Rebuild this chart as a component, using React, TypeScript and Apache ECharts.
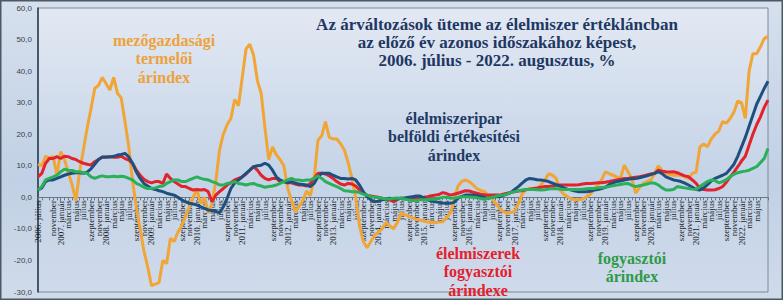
import React, { useEffect, useRef } from "react";
import * as echarts from "echarts";

const MONTHS = ["január", "február", "március", "április", "május", "június", "július", "augusztus", "szeptember", "október", "november", "december"];
const START_YEAR = 2006;
const START_MONTH = 6; // július
const N_MONTHS = 194;

const categories: string[] = [];
for (let k = 0; k < N_MONTHS; k++) {
  const m = (START_MONTH + k) % 12;
  const y = START_YEAR + Math.floor((START_MONTH + k) / 12);
  categories.push(`${y}. ${MONTHS[m]}`);
}

const yTicks = { min: -30, max: 60, interval: 10 };

// mezőgazdasági termelői árindex
const agriProducer = [
  10.5, 10, 13, 12.5, 13, 7, 14.5, 12, 8, 4, -1, 8, 15, 22, 28, 34.5, 35.5, 38, 36, 34,
  38, 33, 31.5, 24, 16, 5, -3, -10, -17, -22, -28, -27.5, -27, -20, -21, -13, -14, -11, -9, -6,
  -3, 0, 2.5, -2, 0, -5, -2, 5, 15, 20, 23, 25, 31, 29, 38, 47, 48.5, 45, 37, 33,
  22, 12, 16, 13.5, 12, 10, 3, -1, -4.5, -3, -1, 2, 0.5, 6, 18, 19.5, 24, 19, 18.5, 18.5,
  17, 15, 11, 6, 0, -9, -14, -16, -14, -12, -11, -10, -8, -9, -10, -8, -5, -5.5, -6, -6.5,
  -7, -7.2, -7.5, -7.8, -8, -8, -7.8, -7.7, -6.5, -5, -1, 3.5, 5, 5.5, 5, 4, 2.8, 2.2, 1.8, 0.7,
  -0.5, -1.9, -3.5, -4.5, -5, -4.8, -4.5, -2, 1, 2.5, 2.8, 2.8, 2.8, 4, 5.5, 7.5, 7, 6, 2.3, 1,
  0.2, -0.5, -0.8, -0.8, -0.5, 0.2, 1, 2.3, 4, 5.5, 8.1, 7.5, 7, 6.5, 6, 10.2, 8, 6, 1.3, 3,
  4.4, 5, 5.5, 7.5, 10, 8.5, 7.6, 7.2, 7, 7, 7, 6.5, 6, 7.6, 8, 16, 16.9, 16, 18.5, 20,
  21, 24, 23.5, 25, 27, 30.5, 30, 25, 40, 45.5, 45.5, 47.7, 50.3, 51,
];

// élelmiszeripar belföldi értékesítési árindex
const foodIndustry = [
  2.3, 3, 5, 5.5, 5.5, 6, 6.5, 7, 7.4, 7.6, 7.8, 7.8, 7.6, 8, 9, 10.5, 12, 12.8, 12.8, 12.8,
  13, 13.4, 13.6, 13.9, 12.8, 10.8, 8, 6, 4.4, 3.6, 2.8, 2.5, 2.1, 1.8, 1.3, 1, 0.7, 0, -0.8, -1.4,
  -1.9, -2.1, -2.4, -3, -3.5, -4, -4.2, -4.5, -4.9, -3, -0.3, 2.8, 4.6, 5.5, 6.5, 7.6, 8.6, 9.7, 10, 10.2,
  10.8, 10.2, 8.6, 6.5, 5.5, 5, 4.6, 5, 4.6, 4.2, 4.1, 3.9, 3.4, 4.4, 6.5, 7.6, 7.6, 7.6, 7, 6.5,
  6, 6, 5.8, 6, 5.5, 3.9, 1.8, 0.2, -0.8, -1.4, -1.2, -0.8, -0.6, -0.3, -0.5, -0.5, -0.3, -0.2, 0, 0.2,
  0.4, 0.4, -0.2, -0.8, -1.2, -1.4, -1.6, -1.8, -1.9, -1.9, -1.6, -0.3, 0.3, 0.7, 0.7, 0.7, 0.6, 0.3, 0, -0.3,
  0, 0.2, 0.2, 0.6, 1, 1.5, 2.5, 3.4, 4.5, 5.5, 6, 5.8, 5.6, 5.5, 5.3, 5, 4.5, 4, 3.6, 3,
  2.6, 2.3, 2, 1.8, 1.8, 1.8, 1.9, 2.3, 2.5, 2.8, 3.2, 4, 4.6, 5, 5.2, 5.5, 5.7, 5.9, 6, 6.2,
  6.5, 6.8, 7.2, 7.6, 8.1, 7.5, 6.5, 6, 5.5, 5.3, 5, 4.5, 3.9, 3.2, 2.5, 2.3, 3, 4, 5.2, 6,
  6.5, 7, 7.6, 9, 10.5, 13, 16, 19, 22.5, 26, 29.5, 32, 34.5, 36.8,
];

// élelmiszerek fogyasztói árindexe
const foodConsumer = [
  6.5, 7.6, 10.8, 12.3, 12.3, 12.9, 12.3, 13, 12.9, 12.3, 12, 11.3, 10.8, 10.5, 10.2, 11.3, 12, 12.7, 12.7, 12.9,
  12.7, 12.7, 13, 12.3, 11.8, 10.8, 8.6, 7, 5.7, 5, 4.6, 5, 5, 4.4, 7.4, 6, 5, 4.2, 3.4, 3.4,
  2.8, 2.3, 2.5, 2.3, 2.5, 1.8, -1.4, 0.7, 1.8, 2.8, 3.9, 4.6, 5.5, 6, 6.5, 7.4, 8.6, 9.7, 8.6, 7,
  6, 5.5, 6, 6, 5, 5, 4.6, 4.6, 4.2, 3.9, 3.9, 3.6, 4.4, 6, 7.6, 7.6, 7.4, 6.8, 6, 5,
  4.2, 3.9, 4.4, 4.2, 3.6, 2.3, 1.3, 0.7, 0.4, 0.2, 0, -0.3, -0.6, -0.8, -1.4, -0.6, -0.3, -0.3, -0.4, -0.3,
  -0.2, -0.3, 0, 0.2, 0.5, 0.7, 0.9, 1.5, 1.2, 0.7, 1, 1.3, 1.7, 2.1, 2, 1.6, 1.3, 1, 0.8, 0.7,
  0.7, 0.7, 0.7, 1, 1.3, 1.5, 1.8, 2, 2.1, 2.4, 2.6, 2.8, 3, 3.2, 3.4, 3.4, 3.6, 3.8, 3.9, 3.9,
  3.9, 3.9, 3.9, 4, 4.2, 4.4, 4.4, 4.5, 4.6, 4.6, 4.8, 5, 5.3, 5.5, 5.7, 6, 6, 6.2, 6.4, 6.5,
  6.8, 7.1, 7.4, 7.6, 8.6, 8.3, 8.1, 8, 8.1, 7.8, 7.3, 6.8, 6.5, 5.5, 4.4, 2.8, 2.5, 2.3, 2.3, 2.4,
  2.8, 3.4, 4.8, 6.5, 8, 9.7, 11.5, 13, 16.5, 20, 23, 25.5, 28.5, 30.8,
];

// fogyasztói árindex
const consumer = [
  2.3, 3.4, 5.5, 6, 6.5, 7, 8.1, 8.9, 8.6, 8.5, 8.1, 8.1, 7.8, 7.6, 6.5, 6, 6.5, 6.8, 6.5, 6.5,
  6.7, 6.5, 6.7, 6.5, 6, 5.5, 4.4, 3.9, 3.2, 2.8, 2.8, 3, 3.4, 3.6, 4.4, 5, 5.5, 5.5, 5, 5,
  5.5, 6, 6.5, 6, 5.7, 5.5, 5, 4.6, 3.9, 3.9, 4.4, 4.6, 5, 4.4, 4.2, 3.9, 4.2, 4.4, 3.9, 3.6,
  3.2, 3.4, 3.6, 3.9, 4.4, 5, 5.5, 6, 5.5, 5.5, 5.3, 5.5, 5.5, 6, 6.8, 6, 5, 4.4, 3.9, 3.4,
  2.8, 2.1, 2, 1.8, 1.8, 1.5, 1, 0.7, 0.2, 0, -0.1, -0.3, -0.5, -0.5, -0.3, -0.2, -0.3, -0.6, -0.8, -1,
  -1, -0.8, -0.8, -0.7, -0.6, -0.6, -0.3, 0, 0, -0.2, -0.3, 0, 0.2, 0.2, 0.1, 0, -0.1, -0.4, -0.6, -0.3,
  0, 0.3, 0.6, 0.7, 1, 1.5, 1.8, 2.1, 2.3, 2.5, 2.5, 2.5, 2.4, 2.3, 2.4, 2.6, 2.8, 2.7, 2.6, 2.5,
  2.5, 2.5, 2.5, 2.5, 2.6, 2.7, 2.8, 2.8, 3, 3.1, 3.2, 3.4, 3.7, 3.9, 4.1, 4.3, 4.4, 3.8, 3.4, 3.7,
  3.9, 4.2, 4.6, 4.5, 3.9, 3, 2.3, 2.3, 2.5, 3.4, 3.2, 3, 2.8, 2.6, 2.5, 3.4, 4.2, 5, 5.5, 5.3,
  4.6, 5, 5.6, 6.5, 7.3, 7.8, 8.1, 8.3, 8.6, 9.2, 9.7, 11, 12.3, 15.5,
];

const TITLE_LINES = [
  "Az árváltozások üteme az élelmiszer értékláncban",
  "az előző év azonos időszakához képest,",
  "2006. július - 2022. augusztus, %",
];

const COLORS = {
  agri: "#f0a535",
  industry: "#1f4f7e",
  food: "#e2232b",
  cpi: "#2bb05a",
};

const GRID = { left: 38, right: 15, top: 8, bottom: 8 };
const CHART_H = 300;

export default function App() {
  const ref = useRef<HTMLDivElement>(null);

  useEffect(() => {
    document.body.style.margin = "0";
    if (!ref.current) return;
    const chart = echarts.init(ref.current, undefined, { renderer: "svg" });

    const serif = '"Liberation Serif", "Times New Roman", serif';
    const lineSeries = (name: string, data: number[], color: string, z: number) => ({
      name,
      type: "line",
      data,
      showSymbol: false,
      symbol: "none",
      z,
      lineStyle: { color, width: 3 },
      itemStyle: { color },
    });

    const textBlock = (text: string, x: number, y: number, color: string, size: number, lh: number) => ({
      type: "text",
      z: 100,
      style: {
        text,
        x,
        y,
        align: "center",
        verticalAlign: "middle",
        font: `bold ${size}px ${serif}`,
        lineHeight: lh,
        fill: color,
      },
    });

    // distance from the grid's bottom edge up to the zero line
    const plotH = CHART_H - GRID.top - GRID.bottom;
    const zeroOffset = -plotH * (0 - yTicks.min) / (yTicks.max - yTicks.min);

    chart.setOption({
      animation: false,
      backgroundColor: new echarts.graphic.LinearGradient(0, 0, 0, 1, [
        { offset: 0, color: "#d6e0ed" },
        { offset: 0.6, color: "#c1d0e5" },
        { offset: 1, color: "#d0dbea" },
      ]),
      grid: {
        ...GRID,
        outerBoundsMode: "none",
        containLabel: false,
        show: true,
        borderColor: "#7d8a99",
        borderWidth: 1,
        backgroundColor: new echarts.graphic.LinearGradient(0, 0, 0, 1, [
          { offset: 0, color: "#e3e9f3" },
          { offset: 0.6, color: "#c4d3e7" },
          { offset: 1, color: "#cfdaeb" },
        ]),
      },
      xAxis: {
        type: "category",
        data: categories,
        boundaryGap: false,
        position: "bottom",
        offset: zeroOffset,
        axisLine: { onZero: false, lineStyle: { color: "#6b7785", width: 1 } },
        axisTick: { show: true, interval: 0, length: 3, lineStyle: { color: "#6b7785" } },
        axisLabel: {
          interval: 1,
          rotate: 90,
          margin: 3,
          fontSize: 9,
          fontFamily: serif,
          color: "#1a1f28",
          hideOverlap: false,
          showMinLabel: true,
          formatter: (value: string, index: number) => {
            if (index === 0 || value.endsWith("január")) return value;
            return value.split(" ")[1];
          },
        },
        splitLine: { show: false },
      },
      yAxis: {
        type: "value",
        min: yTicks.min,
        max: yTicks.max,
        interval: yTicks.interval,
        axisLine: { show: true, lineStyle: { color: "#27384f", width: 1.5 } },
        axisTick: { show: false },
        splitLine: { show: false },
        axisLabel: {
          margin: 6,
          fontSize: 8,
          fontFamily: '"Liberation Sans", Arial, sans-serif',
          color: "#3a3f48",
          formatter: (v: number) => v.toFixed(1).replace(".", ","),
        },
      },
      series: [
        lineSeries("mezőgazdasági termelői árindex", agriProducer, COLORS.agri, 2),
        lineSeries("élelmiszerek fogyasztói árindexe", foodConsumer, COLORS.food, 3),
        lineSeries("élelmiszeripar belföldi értékesítési árindex", foodIndustry, COLORS.industry, 4),
        lineSeries("fogyasztói árindex", consumer, COLORS.cpi, 5),
      ],
      graphic: [
        {
          type: "rect",
          z: 200,
          silent: true,
          shape: { x: 0.75, y: 0.75, width: 781.5, height: 298.5 },
          style: { fill: "none", stroke: "#4b5866", lineWidth: 1.5 },
        },
        textBlock(TITLE_LINES.join("\n"), 497, 42.5, "#1f3763", 17, 18),
        textBlock("mezőgazdasági\ntermelői\nárindex", 164, 58.5, "#eda23c", 16, 18.5),
        textBlock("élelmiszeripar\nbelföldi értékesítési\nárindex", 454, 136.5, "#1f3a64", 16, 18.5),
        textBlock("élelmiszerek\nfogyasztói\nárindexe", 478, 271.5, "#e4202c", 16, 18.5),
        textBlock("fogyasztói\nárindex", 632, 267.5, "#2e9a48", 16, 18.5),
      ],
    });

    return () => chart.dispose();
  }, []);

  return <div ref={ref} style={{ width: 783, height: 300 }} />;
}
